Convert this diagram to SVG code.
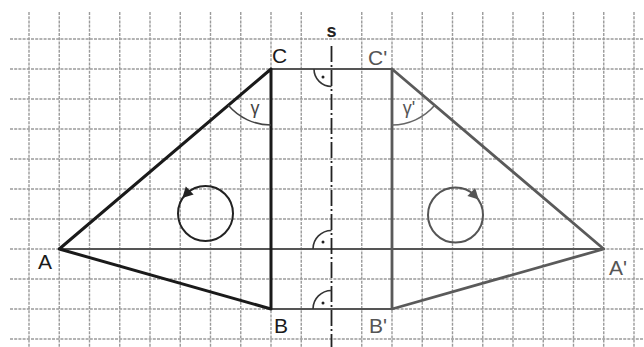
<svg xmlns="http://www.w3.org/2000/svg" width="644" height="347" viewBox="0 0 644 347">
<defs>
<style>
.grid line{stroke:#9a9a9a;stroke-width:1.4;stroke-dasharray:3 1.2}
.orig{stroke:#1a1a1a;stroke-width:3;fill:none;stroke-linecap:round;stroke-linejoin:round}
.img{stroke:#5a5a5a;stroke-width:2.8;fill:none;stroke-linecap:round;stroke-linejoin:round}
.conn{stroke:#555;stroke-width:2;fill:none}
.ra{stroke:#333;stroke-width:1.6;fill:none}
.lbl{font-family:"Liberation Sans",Arial,sans-serif;font-size:21px}
.lo{fill:#1a1a1a}
.li{fill:#555}
.g{font-family:"Liberation Sans",Arial,sans-serif;font-size:18px}
</style>
</defs>
<rect width="644" height="347" fill="#fff"/>
<g class="grid" id="grid">
<line x1="29" y1="12" x2="29" y2="347"/>
<line x1="59.25" y1="12" x2="59.25" y2="347"/>
<line x1="89.5" y1="12" x2="89.5" y2="347"/>
<line x1="119.75" y1="12" x2="119.75" y2="347"/>
<line x1="150" y1="12" x2="150" y2="347"/>
<line x1="180.25" y1="12" x2="180.25" y2="347"/>
<line x1="210.5" y1="12" x2="210.5" y2="347"/>
<line x1="240.75" y1="12" x2="240.75" y2="347"/>
<line x1="271" y1="12" x2="271" y2="347"/>
<line x1="301.25" y1="12" x2="301.25" y2="347"/>
<line x1="361.75" y1="12" x2="361.75" y2="347"/>
<line x1="392" y1="12" x2="392" y2="347"/>
<line x1="422.25" y1="12" x2="422.25" y2="347"/>
<line x1="452.5" y1="12" x2="452.5" y2="347"/>
<line x1="482.75" y1="12" x2="482.75" y2="347"/>
<line x1="513" y1="12" x2="513" y2="347"/>
<line x1="543.25" y1="12" x2="543.25" y2="347"/>
<line x1="573.5" y1="12" x2="573.5" y2="347"/>
<line x1="603.75" y1="12" x2="603.75" y2="347"/>
<line x1="634" y1="12" x2="634" y2="347"/>
<line x1="10" y1="39" x2="644" y2="39"/>
<line x1="10" y1="69" x2="644" y2="69"/>
<line x1="10" y1="99" x2="644" y2="99"/>
<line x1="10" y1="129" x2="644" y2="129"/>
<line x1="10" y1="159" x2="644" y2="159"/>
<line x1="10" y1="189" x2="644" y2="189"/>
<line x1="10" y1="219" x2="644" y2="219"/>
<line x1="10" y1="249" x2="644" y2="249"/>
<line x1="10" y1="279" x2="644" y2="279"/>
<line x1="10" y1="309" x2="644" y2="309"/>
<line x1="10" y1="339" x2="644" y2="339"/>
</g>
<g id="connectors">
<line class="conn" x1="59.25" y1="249" x2="603.75" y2="249"/>
<line class="conn" x1="271" y1="69" x2="392" y2="69"/>
<line class="conn" x1="271" y1="309" x2="392" y2="309"/>
</g>
<g id="axis-s">
<line x1="331.5" y1="46" x2="331.5" y2="347" stroke="#222" stroke-width="1.8" stroke-dasharray="16 3 2 3"/>
<text x="331.5" y="37" text-anchor="middle" font-family="Liberation Sans,Arial,sans-serif" font-size="18" font-weight="bold" fill="#222">s</text>
</g>
<g id="right-angles">
<path class="ra" d="M314,69 A17.5,17.5 0 0 0 331.5,86.5"/>
<circle cx="323" cy="77" r="1.5" fill="#222"/>
<path class="ra" d="M313,249 A18.5,18.5 0 0 1 331.5,230.5"/>
<circle cx="323" cy="242" r="1.5" fill="#222"/>
<path class="ra" d="M313,309 A18.5,18.5 0 0 1 331.5,290.5"/>
<circle cx="323" cy="303" r="1.5" fill="#222"/>
</g>
<g id="triangle-ABC">
<path class="orig" d="M59.25,249 L271,69 L271,309 Z"/>
<path d="M228.3,105.3 A56,56 0 0 0 271,125" stroke="#444" stroke-width="1.5" fill="none"/>
<text class="g" x="255" y="114" text-anchor="middle" fill="#444">γ</text>
</g>
<g id="triangle-A1B1C1">
<path class="img" d="M603.75,249 L392,69 L392,309 Z"/>
<path d="M434.7,105.3 A56,56 0 0 1 392,125" stroke="#666" stroke-width="1.5" fill="none"/>
<text class="g" x="409" y="114" text-anchor="middle" fill="#555">γ'</text>
</g>
<g id="rotation-left">
<circle cx="205.5" cy="213.5" r="27.5" stroke="#222" stroke-width="2" fill="none"/>
<path d="M182.3,198 L185.8,186.6 L193.6,194.4 Z" fill="#222"/>
</g>
<g id="rotation-right">
<circle cx="455.5" cy="215" r="27.5" stroke="#555" stroke-width="2" fill="none"/>
<path d="M478.7,199.5 L475.2,188.1 L467.4,195.9 Z" fill="#555"/>
</g>
<g id="labels">
<g id="node-A"><text class="lbl lo" x="38" y="269">A</text></g>
<g id="node-B"><text class="lbl lo" x="274" y="333">B</text></g>
<g id="node-C"><text class="lbl lo" x="272" y="63">C</text></g>
<g id="node-A1"><text class="lbl li" x="609" y="275">A'</text></g>
<g id="node-B1"><text class="lbl li" x="369" y="333">B'</text></g>
<g id="node-C1"><text class="lbl li" x="368" y="65">C'</text></g>
</g>
</svg>
